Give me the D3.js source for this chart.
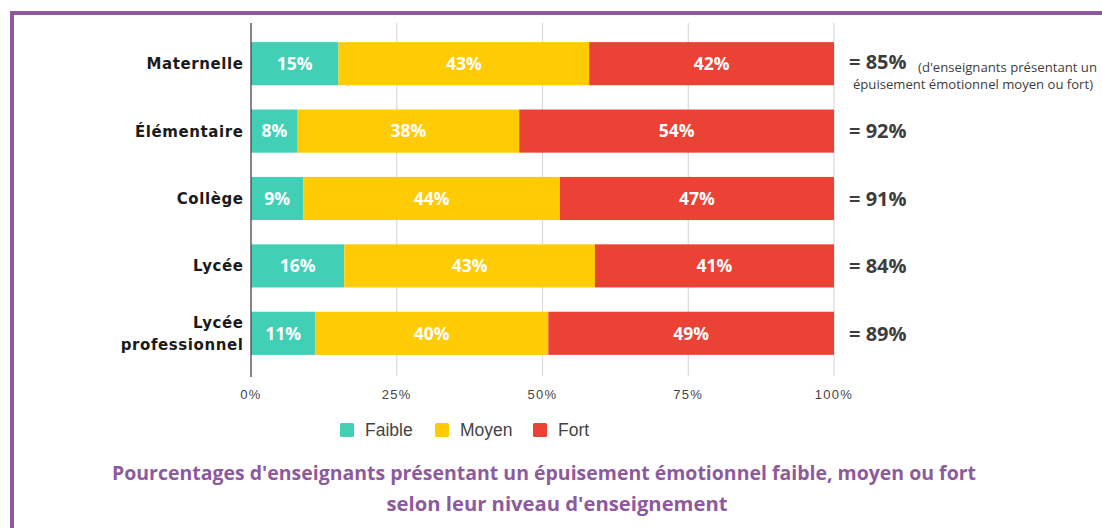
<!DOCTYPE html>
<html><head><meta charset="utf-8">
<script src="https://cdn.jsdelivr.net/npm/d3@7"></script>
<style>
html,body{margin:0;padding:0;background:#fff;}
svg{display:block;}
</style></head>
<body>
<svg id="chart" width="1102" height="528"></svg>
<script>
const categories = ["Maternelle", "Élémentaire", "Collège", "Lycée", "Lycée professionnel"];
const categoryLines = [["Maternelle"], ["Élémentaire"], ["Collège"], ["Lycée"], ["Lycée", "professionnel"]];
const seriesNames = ["Faible", "Moyen", "Fort"];
const faible = [15, 8, 9, 16, 11];
const moyen = [43, 38, 44, 43, 40];
const fort = [42, 54, 47, 41, 49];
const totals = ["= 85%", "= 92%", "= 91%", "= 84%", "= 89%"];
const tickValues = [0, 25, 50, 75, 100];
const tickLabels = ["0%", "25%", "50%", "75%", "100%"];
const colors = ["#41d0b6", "#ffcb05", "#ea4335"];
const noteLines = ["(d'enseignants présentant un", "épuisement émotionnel moyen ou fort)"];
const titleLines = ["Pourcentages d'enseignants présentant un épuisement émotionnel faible, moyen ou fort", "selon leur niveau d'enseignement"];

const svg = d3.select("#chart");
const purple = "#8d5a9e";

// frame
svg.append("rect").attr("x", 12).attr("y", 13).attr("width", 1102).attr("height", 540)
  .attr("fill", "none").attr("stroke", purple).attr("stroke-width", 4);

const x = d3.scaleLinear().domain([0, 100]).range([251, 834]);
const y = d3.scaleBand().domain(categories).range([30, 367]).paddingInner(0.36).paddingOuter(0.18);

// grid
svg.append("g").selectAll("line").data(tickValues.slice(1)).join("line")
  .attr("x1", d => x(d)).attr("x2", d => x(d)).attr("y1", 23).attr("y2", 376)
  .attr("stroke", "#d9d9d9").attr("stroke-width", 1.2);

const data = categories.map((c, i) => ({cat: c, Faible: faible[i], Moyen: moyen[i], Fort: fort[i]}));
const stack = d3.stack().keys(seriesNames)(data);

const layers = svg.append("g").selectAll("g").data(stack).join("g")
  .attr("fill", (d, i) => colors[i]);
layers.selectAll("rect").data(d => d).join("rect")
  .attr("x", d => x(d[0])).attr("width", d => x(d[1]) - x(d[0]))
  .attr("y", d => y(d.data.cat)).attr("height", y.bandwidth());

layers.selectAll("text").data(d => d.map(v => ({v, key: d.key}))).join("text")
  .attr("x", d => (x(d.v[0]) + x(d.v[1])) / 2)
  .attr("y", d => y(d.v.data.cat) + y.bandwidth() / 2)
  .attr("dy", "0.36em").attr("text-anchor", "middle")
  .attr("fill", "#fff").attr("font-family", "'Open Sans', sans-serif").attr("font-weight", "bold")
  .attr("font-size", 17.5)
  .text(d => d.v.data[d.key] + "%");

// zero axis line
svg.append("line").attr("x1", x(0)).attr("x2", x(0)).attr("y1", 23).attr("y2", 377)
  .attr("stroke", "#444").attr("stroke-width", 1.3);

// category labels
const catG = svg.append("g").selectAll("text").data(categories).join("text")
  .attr("x", 243.6).attr("text-anchor", "end")
  .attr("font-family", "'DejaVu Sans', sans-serif").attr("font-weight", "bold")
  .attr("font-size", 15).attr("letter-spacing", "0.6").attr("fill", "#1a1a1a");
catG.each(function(c, i) {
  const lines = categoryLines[i];
  const cy = y(c) + y.bandwidth() / 2;
  const lh = 22;
  d3.select(this).selectAll("tspan").data(lines).join("tspan")
    .attr("x", 243.6)
    .attr("y", (d, j) => cy + (j - (lines.length - 1) / 2) * lh)
    .attr("dy", "0.36em").text(d => d);
});

// tick labels
svg.append("g").selectAll("text").data(tickValues).join("text")
  .attr("x", d => x(d)).attr("y", 399).attr("text-anchor", "middle")
  .attr("font-family", "'Liberation Sans', Arial, sans-serif").attr("font-size", 13)
  .attr("letter-spacing", "1.3").attr("fill", "#444")
  .text((d, i) => tickLabels[i]);

// totals
svg.append("g").selectAll("text").data(totals).join("text")
  .attr("x", 849).attr("y", (d, i) => y(categories[i]) + y.bandwidth() / 2 + (i === 0 ? -2 : 0))
  .attr("dy", "0.36em")
  .attr("font-family", "'Open Sans', sans-serif").attr("font-weight", "bold")
  .attr("font-size", 20).attr("fill", "#3d3d3d")
  .text(d => d);

// note
svg.append("text").attr("x", 918).attr("y", 72)
  .attr("font-family", "'Open Sans', sans-serif").attr("font-size", 13).attr("fill", "#3d3d3d")
  .attr("textLength", 179).attr("lengthAdjust", "spacingAndGlyphs")
  .text(noteLines[0]);
svg.append("text").attr("x", 853).attr("y", 89)
  .attr("font-family", "'Open Sans', sans-serif").attr("font-size", 13).attr("fill", "#3d3d3d")
  .attr("textLength", 240).attr("lengthAdjust", "spacingAndGlyphs")
  .text(noteLines[1]);

// legend
const legendX = [340, 435, 533];
const lg = svg.append("g").selectAll("g").data(seriesNames).join("g")
  .attr("transform", (d, i) => `translate(${legendX[i]},430)`);
lg.append("rect").attr("x", 0).attr("y", -7).attr("width", 14).attr("height", 14).attr("rx", 1.5)
  .attr("fill", (d, i) => colors[i]);
lg.append("text").attr("x", 25).attr("y", 0).attr("dy", "0.36em")
  .attr("font-family", "'Liberation Sans', Arial, sans-serif").attr("font-size", 17.5).attr("fill", "#444")
  .text(d => d);

// title
const titleCx = [544, 557];
svg.append("g").selectAll("text").data(titleLines).join("text")
  .attr("x", (d, i) => titleCx[i]).attr("y", (d, i) => 480 + i * 31).attr("text-anchor", "middle")
  .attr("font-family", "'Open Sans', sans-serif").attr("font-weight", "bold")
  .attr("font-size", 19).attr("fill", purple)
  .attr("textLength", (d, i) => i === 0 ? 864 : 341).attr("lengthAdjust", "spacingAndGlyphs")
  .text(d => d);
</script>
</body></html>
